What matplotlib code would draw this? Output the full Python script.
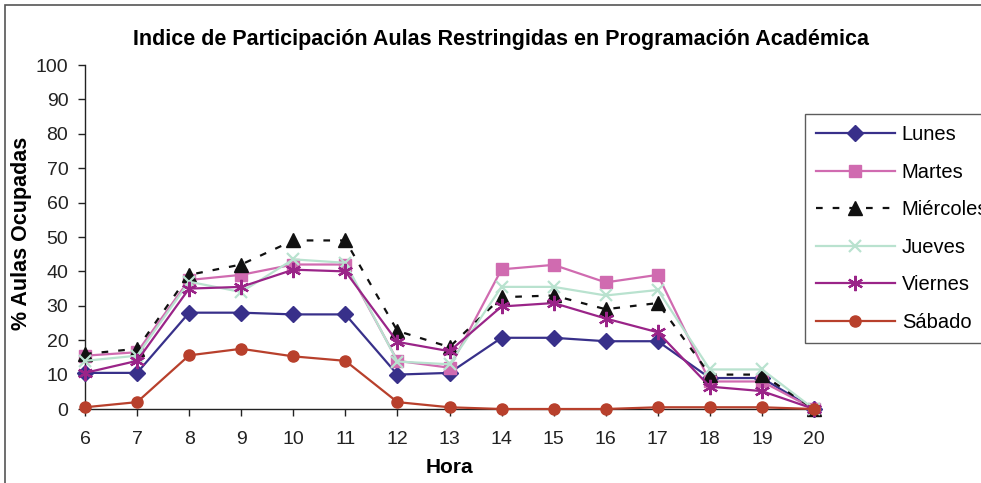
import matplotlib
import matplotlib.pyplot as plt
from matplotlib.patches import Rectangle

matplotlib.use("Agg")
plt.rcParams["font.family"] = ["Liberation Sans", "DejaVu Sans"]

horas = [6, 7, 8, 9, 10, 11, 12, 13, 14, 15, 16, 17, 18, 19, 20]

lunes = [10.5, 10.5, 28, 28, 27.5, 27.5, 10, 10.5, 20.7, 20.7, 19.7, 19.7, 9, 9, 0]
martes = [15.5, 16.5, 37.5, 39, 42, 42, 14, 12, 40.6, 41.9, 36.8, 39, 8, 8, 0]
miercoles = [16, 17.5, 39, 42, 49, 49, 22.7, 18, 32.5, 33, 29, 30.8, 10, 10, 0]
jueves = [14, 15.5, 37, 34, 43.5, 42.5, 13.8, 13, 35.5, 35.5, 33, 34.6, 11.5, 11.5, 0]
viernes = [10.5, 14, 35, 35.5, 40.5, 40, 19.5, 16.8, 29.8, 30.8, 26.3, 22.3, 6.5, 5.2, 0]
sabado = [0.5, 2, 15.6, 17.5, 15.3, 14, 2, 0.5, 0, 0, 0, 0.5, 0.5, 0.5, 0]

series = [
    ("Lunes", lunes, "#38308A", "-", "D", 8),
    ("Martes", martes, "#D06BB0", "-", "s", 8),
    ("Miércoles", miercoles, "#111111", (0, (3, 4.5)), "^", 10),
    ("Jueves", jueves, "#B9E2CF", "-", "x", 9),
    ("Viernes", viernes, "#9A2488", "-", (6, 2, 0), 11),
    ("Sábado", sabado, "#B8402C", "-", "o", 8),
]

W, H = 981, 483
fig = plt.figure(figsize=(W / 100, H / 100), dpi=100)
fig.patch.set_facecolor("white")

# outer chart border (runs off the right/bottom edge in the original)
fig.patches.append(Rectangle((5 / W, -0.1), 1.2, 1 - 5 / H + 0.1,
                             transform=fig.transFigure, fill=False,
                             edgecolor="#555555", linewidth=1.2))

ax = fig.add_axes([85 / W, 1 - 409 / H, (814 - 85) / W, (409 - 65) / H])

for name, vals, color, ls, mk, ms in series:
    mew = 1.6 if mk in ("x", (6, 2, 0)) else 1.0
    ax.plot(horas, vals, color=color, linestyle=ls, linewidth=1.6,
            marker=mk, markersize=ms, markeredgewidth=mew,
            markerfacecolor=color, markeredgecolor=color,
            label=name, clip_on=False, zorder=3)

ax.set_xlim(6, 20)
ax.set_ylim(0, 100)
ax.set_xticks(horas)
ax.set_yticks(range(0, 101, 10))
ax.tick_params(axis="both", labelsize=14, colors="#222222", length=5,
               width=1, direction="out")
ax.tick_params(axis="x", pad=11)
ax.tick_params(axis="y", pad=7)
for s in ("top", "right"):
    ax.spines[s].set_visible(False)
for s in ("left", "bottom"):
    ax.spines[s].set_color("#222222")
    ax.spines[s].set_linewidth(1)

ax.set_xlabel("Hora", fontsize=15, fontweight="bold", labelpad=7)

fig.text(22 / W, 1 - 330 / H, "% Aulas Ocupadas", rotation=90,
         ha="center", va="bottom", fontsize=15.5, fontweight="bold")

fig.text(501 / W, 1 - 40 / H,
         "Indice de Participación Aulas Restringidas en Programación Académica",
         ha="center", va="center", fontsize=15.5, fontweight="bold")

# legend box runs off the right edge, as in the original
leg = ax.legend(loc="upper left", bbox_to_anchor=(805 / W, 1 - 114 / H),
                bbox_transform=fig.transFigure, fontsize=14.5, frameon=True,
                fancybox=False, edgecolor="#333333", handlelength=3.9,
                handletextpad=0.35, labelspacing=0.92, borderpad=0.55,
                borderaxespad=0)
leg.get_frame().set_linewidth(1)

fig.savefig("out.png", dpi=100)
